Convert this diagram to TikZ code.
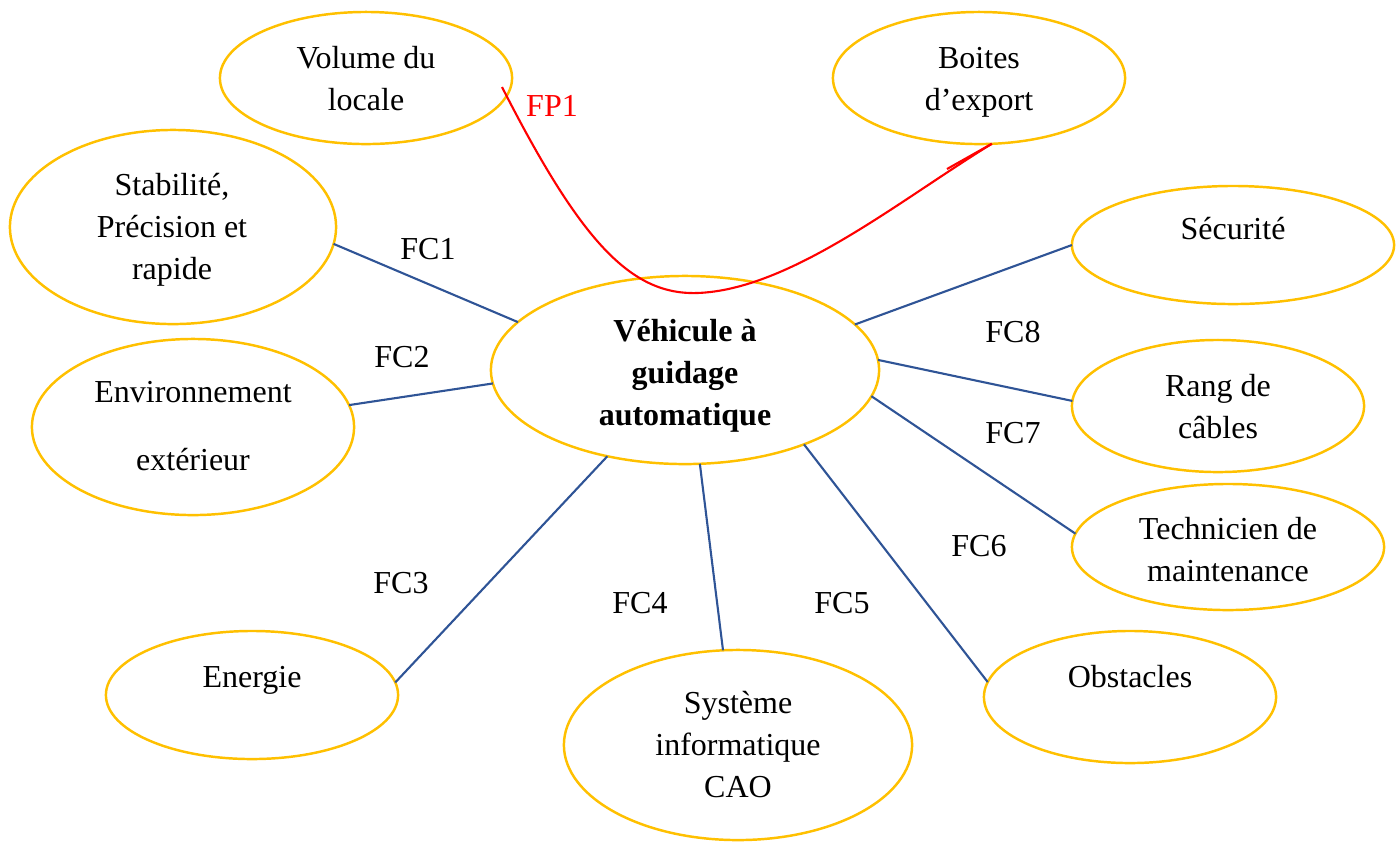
\documentclass[tikz,border=0pt]{standalone}
\usepackage{fontspec}
\setmainfont{Liberation Serif}
\usetikzlibrary{shapes.geometric}
\definecolor{gold}{HTML}{FFC000}
\definecolor{navy}{HTML}{2F5496}
% centred block of lines whose first baseline is the node's base
\newcommand\txtstack[1]{\begin{tabular}[t]{@{}c@{}}#1\end{tabular}}

\begin{document}
\begin{tikzpicture}[x=0.01cm,y=-0.01cm,
  bubble/.style 2 args={ellipse,draw=gold,line width=0.7pt,
    minimum width=#1,minimum height=#2,inner sep=0pt,outer sep=0pt},
  lbl/.style={anchor=base,inner sep=0pt,font={\fontsize{9.1}{11.95}\selectfont}},
  link/.style={draw=navy,line width=0.6pt},
  fp/.style={draw=red,line width=0.6pt}]
\useasboundingbox (0,0) rectangle (1400,841);

% ---- ellipses
\node[bubble={3.88cm}{1.88cm}] (veh)  at (685,370) {};
\node[bubble={2.92cm}{1.32cm}] (vol)  at (366,78)  {};
\node[bubble={2.92cm}{1.32cm}] (box)  at (979,78)  {};
\node[bubble={3.26cm}{1.94cm}] (stab) at (173,227) {};
\node[bubble={3.22cm}{1.76cm}] (env)  at (193,427) {};
\node[bubble={2.92cm}{1.28cm}] (ener) at (252,695) {};
\node[bubble={3.48cm}{1.90cm}] (sys)  at (738,745) {};
\node[bubble={2.92cm}{1.32cm}] (obst) at (1130,697) {};
\node[bubble={3.12cm}{1.26cm}] (tech) at (1228,547) {};
\node[bubble={2.92cm}{1.32cm}] (rang) at (1218,406) {};
\node[bubble={3.22cm}{1.18cm}] (secu) at (1233,245) {};

% ---- texts inside the ellipses
\node[lbl] (t-veh)  at (685,341) {\txtstack{\bfseries V\'ehicule \`a\\\bfseries guidage\\\bfseries automatique}};
\node[lbl] (t-vol)  at (366,68)  {\txtstack{Volume du\\locale}};
\node[lbl] (t-box)  at (979,68)  {\txtstack{Boites\\d’export}};
\node[lbl] (t-stab) at (172,195) {\txtstack{Stabilit\'e,\\Pr\'ecision et\\rapide}};
\node[lbl] (t-env)  at (193,402) {\txtstack{Environnement\\[7.4pt]ext\'erieur}};
\node[lbl] (t-ener) at (252,687) {Energie};
\node[lbl] (t-sys)  at (738,713) {\txtstack{Syst\`eme\\informatique\\CAO}};
\node[lbl] (t-obst) at (1130,687) {Obstacles};
\node[lbl] (t-tech) at (1228,539) {\txtstack{Technicien de\\maintenance}};
\node[lbl] (t-rang) at (1218,396) {\txtstack{Rang de\\c\^ables}};
\node[lbl] (t-secu) at (1233,239) {S\'ecurit\'e};

% ---- constraint links
\draw[link] (stab.-6.6)  -- (veh.164.8);
\draw[link] (env.8.5)    -- (veh.184.8);
\draw[link] (ener.5.1)   -- (veh.228.9);
\draw[link] (sys.99.5)   -- (veh.279.2);
\draw[link] (obst.174.1) -- (veh.-32.4);
\draw[link] (tech.175.6) -- (veh.-8.6);
\draw[link] (rang.178)   -- (veh.3.0);
\draw[link] (secu.180)   -- (veh.15.8);

% ---- main function
\coordinate (fp1s) at (502,87);
\coordinate (fp1b) at (697,293);
\coordinate (fp1t) at (947,169);
\draw[fp] (fp1s) .. controls (580,240) and (630,295) .. (fp1b)
  .. controls (790,290) and (900,200) .. (box.-79.4);
\draw[fp] (box.-79.4) -- (fp1t);

% ---- function labels
\node[lbl,text=red] (l-fp1) at (552,116) {FP1};
\node[lbl] (l-fc1) at (428,259) {FC1};
\node[lbl] (l-fc2) at (402,367) {FC2};
\node[lbl] (l-fc3) at (401,593) {FC3};
\node[lbl] (l-fc4) at (640,613) {FC4};
\node[lbl] (l-fc5) at (842,613) {FC5};
\node[lbl] (l-fc6) at (979,556) {FC6};
\node[lbl] (l-fc7) at (1013,443) {FC7};
\node[lbl] (l-fc8) at (1013,342) {FC8};
\end{tikzpicture}
\end{document}
